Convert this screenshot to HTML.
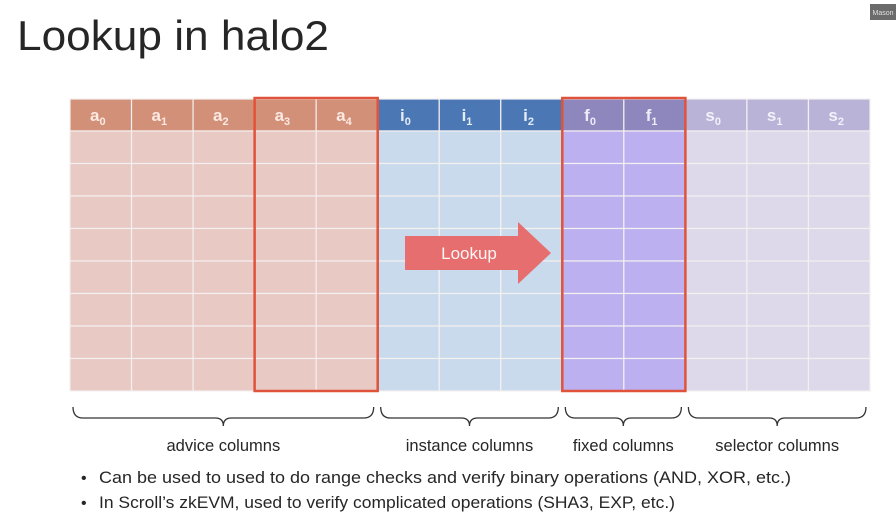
<!DOCTYPE html>
<html><head><meta charset="utf-8">
<style>
html,body{margin:0;padding:0;background:#fff;}
svg{display:block;font-family:"Liberation Sans",sans-serif;}
</style></head>
<body>
<svg id="s" width="896" height="518" viewBox="0 0 896 518" xmlns="http://www.w3.org/2000/svg">
  <rect x="0" y="0" width="896" height="518" fill="#ffffff"/>
  <text x="17" y="50" font-size="42" fill="#262626" textLength="312" lengthAdjust="spacingAndGlyphs">Lookup in halo2</text>
  <rect x="870" y="4" width="26" height="16" fill="#6b6b6b"/>
  <text x="883" y="15" font-size="7" fill="#e0e0e0" text-anchor="middle">Mason</text>
  <g id="grid"></g>
  <g id="overlay"></g>
  <text x="81" y="483" font-size="16" fill="#262626">•</text>
  <text x="99" y="483" font-size="17" fill="#262626" textLength="692" lengthAdjust="spacingAndGlyphs">Can be used to used to do range checks and verify binary operations (AND, XOR, etc.)</text>
  <text x="81" y="508" font-size="16" fill="#262626">•</text>
  <text x="99" y="508" font-size="17" fill="#262626" textLength="576" lengthAdjust="spacingAndGlyphs">In Scroll’s zkEVM, used to verify complicated operations (SHA3, EXP, etc.)</text>
</svg>
<script>
const colNames = ["a","a","a","a","a","i","i","i","f","f","s","s","s"];
const colSubs = ["0","1","2","3","4","0","1","2","0","1","0","1","2"];
const colGroups = ["advice","advice","advice","advice","advice","instance","instance","instance","fixed","fixed","selector","selector","selector"];
const groupLabels = ["advice columns","instance columns","fixed columns","selector columns"];
const highlighted = [3,4,8,9];
const rowCount = 8;

const NS = "http://www.w3.org/2000/svg";
const X0 = 70, X1 = 870, HY0 = 99, HY1 = 131, BY1 = 391;
const cw = (X1 - X0) / colNames.length;
const rh = (BY1 - HY1) / rowCount;
const headFill = {advice:"#d39079", instance:"#4b78b5", fixed:"#8e87be", selector:"#bab3d8"};
const bodyFill = {advice:"#e8c9c4", instance:"#c9daec", fixed:"#bcb0f1", selector:"#ddd9ea"};
const headText = {advice:"#fbe9e2", instance:"#e4ecf7", fixed:"#eeeaf8", selector:"#f2f0f9"};
function colX(i){return X0 + i*cw;}
function el(tag, attrs, parent){const e=document.createElementNS(NS,tag);for(const k in attrs)e.setAttribute(k,attrs[k]);parent.appendChild(e);return e;}
const g = document.getElementById("grid");
colNames.forEach((n,i)=>{
  const grp = colGroups[i];
  const h = el("rect",{x:colX(i),y:HY0,width:cw,height:HY1-HY0,fill:headFill[grp],stroke:"#f4f0f0","stroke-width":1.2},g);
  
  
  const t = el("text",{x:colX(i)+cw/2-3,y:HY0+22,"font-size":17,"font-weight":"bold",fill:headText[grp],"text-anchor":"middle"},g);
  
  
  t.textContent = n;
  const sub = el("tspan",{"font-size":11,dy:4},t);
  sub.textContent = colSubs[i];
  for(let r=0;r<rowCount;r++){
    const c = el("rect",{x:colX(i),y:HY1+r*rh,width:cw,height:rh,fill:bodyFill[grp],stroke:"#f4f0f0","stroke-width":1.2},g);
    
    
  }
});
const o = document.getElementById("overlay");
// highlight boxes (contiguous pairs)
for(let k=0;k<highlighted.length;k+=2){
  const a=highlighted[k], b=highlighted[k+1];
  const r = el("rect",{x:colX(a),y:HY0-1,width:colX(b+1)-colX(a),height:BY1-HY0+1,fill:"none",stroke:"#e0533a","stroke-width":2.5},o);
  
  
}
// arrow
const ar = el("path",{d:"M405,236 L518,236 L518,222 L551,253 L518,284 L518,270 L405,270 Z",fill:"#e66e6e"},o);


const at = el("text",{x:469,y:259,"font-size":17,fill:"#fff5f5","text-anchor":"middle"},o);


at.textContent = "Lookup";
// braces
const groupsOrder = ["advice","instance","fixed","selector"];
const spans = groupsOrder.map(gr=>{const idx=colGroups.map((c,i)=>c===gr?i:-1).filter(i=>i>=0);return [colX(idx[0]),colX(idx[idx.length-1]+1)];});
spans.forEach((s,k)=>{
  const x0=s[0]+3, x1=s[1]-4, m=(x0+x1)/2, y0=407, y1=418, y2=426;
  const p = el("path",{d:`M${x0},${y0} Q${x0},${y1} ${x0+10},${y1} L${m-8},${y1} Q${m},${y1} ${m},${y2} Q${m},${y1} ${m+8},${y1} L${x1-10},${y1} Q${x1},${y1} ${x1},${y0}`,fill:"none",stroke:"#333","stroke-width":1.3},o);
  
  
  const t = el("text",{x:m,y:451,"font-size":16.5,fill:"#262626","text-anchor":"middle"},o);
  
  
  t.textContent = groupLabels[k];
});
</script>
</body></html>
